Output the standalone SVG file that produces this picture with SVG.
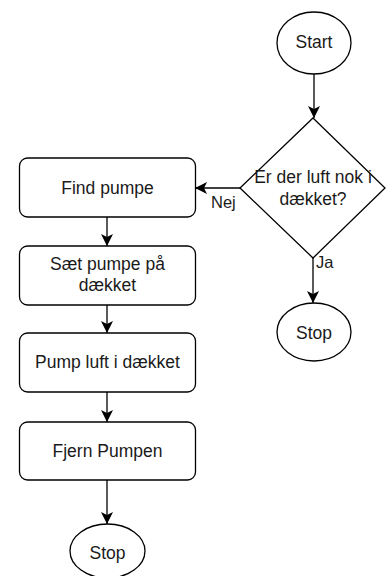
<svg xmlns="http://www.w3.org/2000/svg" width="387" height="576" viewBox="0 0 387 576">
<style>
.s{fill:#fff;stroke:#000;stroke-width:1.3}
.t{font-family:"Liberation Sans",Arial,sans-serif;font-size:17.5px;fill:#1a1a1a;text-anchor:middle}
.l{font-family:"Liberation Sans",Arial,sans-serif;font-size:16.5px;fill:#1a1a1a}
.c{fill:none;stroke:#000;stroke-width:1.3}
</style>
<defs>
<marker id="a" markerUnits="userSpaceOnUse" markerWidth="14" markerHeight="12" refX="12" refY="6" orient="auto">
<path d="M0,0 L12,6 L0,12 L3,6 z" fill="#000"/>
</marker>
</defs>
<g id="connectors">
<line class="c" x1="314" y1="74" x2="314" y2="118" marker-end="url(#a)"/>
<line class="c" x1="313" y1="258" x2="313" y2="303" marker-end="url(#a)"/>
<line class="c" x1="240" y1="188" x2="195" y2="188" marker-end="url(#a)"/>
<line class="c" x1="107" y1="217" x2="107" y2="246" marker-end="url(#a)"/>
<line class="c" x1="107" y1="305" x2="107" y2="333" marker-end="url(#a)"/>
<line class="c" x1="107" y1="392" x2="107" y2="422" marker-end="url(#a)"/>
<line class="c" x1="107" y1="480" x2="107" y2="524" marker-end="url(#a)"/>
<text class="l" x="211" y="208">Nej</text>
<text class="l" x="316" y="268">Ja</text>
</g>
<g id="start">
<ellipse class="s" cx="314" cy="43" rx="37" ry="31"/>
<text class="t" x="314" y="48">Start</text>
</g>
<g id="decision">
<polygon class="s" points="313,118 385,188 313,258 240,188"/>
<text class="t" x="313" y="183">Er der luft nok i</text>
<text class="t" x="313" y="205">dækket?</text>
</g>
<g id="stop1">
<ellipse class="s" cx="314" cy="332" rx="37" ry="29"/>
<text class="t" x="314" y="339">Stop</text>
</g>
<g id="find">
<rect class="s" x="19.5" y="158" width="176" height="59" rx="8"/>
<text class="t" x="107.5" y="193.5">Find pumpe</text>
</g>
<g id="saet">
<rect class="s" x="19.5" y="246" width="176" height="59" rx="8"/>
<text class="t" x="107.5" y="269.5">Sæt pumpe på</text>
<text class="t" x="107.5" y="291">dækket</text>
</g>
<g id="pump">
<rect class="s" x="19.5" y="333" width="176" height="59" rx="8"/>
<text class="t" x="107.5" y="368">Pump luft i dækket</text>
</g>
<g id="fjern">
<rect class="s" x="19.5" y="422" width="176" height="58" rx="8"/>
<text class="t" x="107.5" y="457">Fjern Pumpen</text>
</g>
<g id="stop2">
<ellipse class="s" cx="107.5" cy="551" rx="37.5" ry="27"/>
<text class="t" x="107.5" y="559">Stop</text>
</g>
</svg>
